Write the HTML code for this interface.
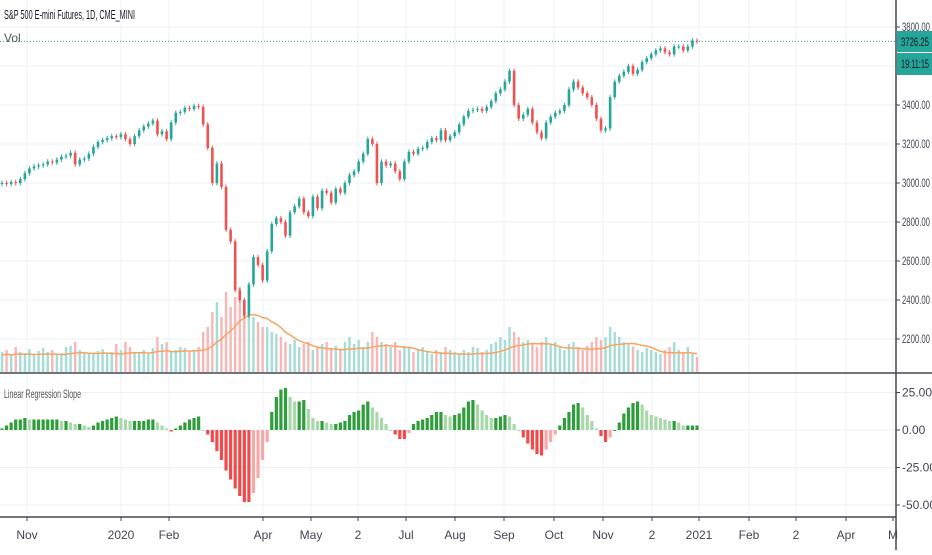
<!DOCTYPE html>
<html><head><meta charset="utf-8"><style>
body{margin:0;background:#fff;width:932px;height:550px;overflow:hidden;font-family:"Liberation Sans Narrow","Liberation Sans",sans-serif}
svg text{font-family:"Liberation Sans Narrow","Liberation Sans",sans-serif}
</style></head><body>
<svg id="c" width="932" height="550" xmlns="http://www.w3.org/2000/svg"></svg>
<script>
const closes=[3000,2995,3005,3000,3020,3050,3075,3085,3090,3095,3110,3105,3120,3135,3140,3155,3095,3120,3125,3150,3185,3210,3220,3230,3240,3235,3250,3225,3200,3240,3270,3290,3305,3320,3250,3265,3225,3310,3360,3365,3385,3380,3395,3390,3300,3180,3000,3100,2980,2760,2700,2450,2400,2320,2480,2620,2580,2500,2650,2790,2820,2800,2730,2850,2880,2920,2850,2830,2930,2870,2960,2950,2900,2970,2950,3000,3040,3060,3110,3150,3225,3200,3000,3110,3090,3100,3060,3020,3110,3160,3150,3175,3180,3210,3230,3220,3270,3220,3240,3260,3300,3340,3370,3375,3380,3370,3390,3420,3460,3480,3520,3575,3400,3330,3350,3380,3310,3260,3230,3310,3340,3360,3370,3400,3480,3520,3490,3460,3440,3400,3330,3270,3280,3440,3520,3550,3570,3600,3560,3580,3620,3640,3660,3680,3690,3670,3660,3700,3700,3680,3700,3730,3726.25];
const volumes=[20,22,18,25,20,19,23,18,21,24,20,22,18,19,25,26,30,22,20,18,19,21,23,18,20,28,22,30,25,20,19,22,18,24,35,28,30,20,22,25,24,20,22,25,40,45,60,70,55,80,65,75,85,60,70,55,50,45,45,40,38,35,30,28,32,25,28,30,22,25,28,30,24,26,22,30,35,28,32,25,30,40,35,30,28,25,30,22,26,24,20,22,25,20,18,22,20,25,22,20,18,22,20,25,24,20,22,28,30,35,32,45,40,35,30,32,28,25,30,35,28,30,25,22,28,30,25,22,26,30,35,32,35,45,40,35,30,28,25,22,20,24,22,20,18,22,25,30,22,20,25,18,15];
const slopes=[1,3,5,7,7,8,7,7,7,7,7,7,7,6,6,5,4,4,3,2,3,5,6,7,8,9,8,7,6,6,6,6,7,7,5,3,1,-1,1,3,5,7,8,9,0,-3,-8,-14,-20,-27,-33,-39,-44,-48,-48,-42,-32,-20,-8,12,22,27,28,22,19,19,20,14,8,6,6,5,4,4,5,6,10,12,13,17,19,15,12,8,4,0,-3,-6,-6,-2,4,6,7,8,10,12,12,10,9,10,11,15,19,20,17,13,10,8,8,9,10,9,4,0,-5,-9,-13,-16,-17,-13,-8,-3,3,8,12,17,18,15,10,6,1,-4,-8,-5,0,5,11,15,18,19,17,13,10,9,8,7,6,6,5,3,3,3,3];
const priceTicks=[3800,3400,3200,3000,2800,2600,2400,2200];
const slopeTicks=[25,0,-25,-50];
const timeLabels=["Nov","2020","Feb","Apr","May","2","Jul","Aug","Sep","Oct","Nov","2","2021","Feb","2","Apr","M"];
const timePos=[27,121,169,263,311,358,406,455,504,554,603,652,699,749,796,846,893];

const S=document.getElementById('c');const NS="http://www.w3.org/2000/svg";
function el(t,a,p){const e=document.createElementNS(NS,t);for(const k in a)e.setAttribute(k,a[k]);(p||S).appendChild(e);return e;}
const xOf=i=>2+i*(695/(closes.length-1));
const yP=v=>27+(3800-v)*0.195;
const yS=v=>430-v*1.5;
const yV=v=>372-v;
const grid=el('g',{});


priceTicks.concat([3600]).forEach(v=>el('line',{x1:0,x2:896,y1:yP(v),y2:yP(v),stroke:'#eef0f3'},grid));
slopeTicks.forEach(v=>el('line',{x1:0,x2:896,y1:yS(v),y2:yS(v),stroke:'#eef0f3'},grid));
timePos.forEach(x=>el('line',{x1:x,x2:x,y1:0,y2:517,stroke:'#eef0f3'},grid));
const vg=el('g',{});


volumes.forEach((v,i)=>{const up=i==0||closes[i]>=closes[i-1];
const r=el('rect',{x:xOf(i)-1.2,y:yV(v),width:2.4,height:v,fill:up?'#a6dcd6':'#f7b7b5'},vg);
});
let ma=[];volumes.forEach((v,i)=>{const s=volumes.slice(Math.max(0,i-9),i+1);ma.push(s.reduce((a,b)=>a+b,0)/s.length);});
const ml=el('polyline',{points:ma.map((m,i)=>xOf(i)+','+yV(m*0.85)).join(' '),fill:'none',stroke:'#f7a463','stroke-width':1.5});


const cg=el('g',{});


closes.forEach((c,i)=>{const o=i==0?c-5:closes[i-1];const up=c>=o;const col=up?'#26a69a':'#ef5350';
const hi=Math.max(o,c)+12,lo=Math.min(o,c)-12;const x=xOf(i);
const g=el('g',{},cg);
el('line',{x1:x,x2:x,y1:yP(hi),y2:yP(lo),stroke:col,'stroke-width':1},g);
const t=yP(Math.max(o,c)),b=yP(Math.min(o,c));
el('rect',{x:x-1.3,y:t,width:2.6,height:Math.max(1,b-t),fill:col},g);});
el('line',{x1:0,x2:896,y1:yP(3726.25),y2:yP(3726.25),stroke:'#26a69a','stroke-dasharray':'1 2','stroke-width':1});
const sg=el('g',{});


slopes.forEach((v,i)=>{const prev=i?slopes[i-1]:0;let col;
if(v>=0)col=v>=prev?'#2e9e3a':'#a8d8aa';else col=v<=prev?'#f24a4a':'#f7a8a8';
const y0=yS(0),y1=yS(v);
const r=el('rect',{x:xOf(i)-1.6,y:Math.min(y0,y1),width:3.2,height:Math.max(1,Math.abs(y1-y0)),fill:col},sg);
});
el('line',{x1:0,x2:932,y1:373,y2:373,stroke:'#434651','stroke-width':1.5});
el('line',{x1:0,x2:896,y1:517,y2:517,stroke:'#434651','stroke-width':1.5});
el('line',{x1:896,x2:896,y1:0,y2:550,stroke:'#434651','stroke-width':1.5});
const pa=el('g',{});


priceTicks.forEach(v=>{el('line',{x1:896,x2:900,y1:yP(v),y2:yP(v),stroke:'#434651'},pa);
el('text',{x:902,y:yP(v)+4,'font-size':12,fill:'#434651',textLength:28,lengthAdjust:'spacingAndGlyphs'},pa).textContent=v.toFixed(2);});
const sa=el('g',{});


slopeTicks.forEach(v=>{el('line',{x1:896,x2:900,y1:yS(v),y2:yS(v),stroke:'#434651'},sa);
el('text',{x:902,y:yS(v)+4,'font-size':12,fill:'#434651'},sa).textContent=v.toFixed(2);});
const ta=el('g',{});


timeLabels.forEach((l,i)=>{el('line',{x1:timePos[i],x2:timePos[i],y1:517,y2:521,stroke:'#434651'},ta);
el('text',{x:timePos[i],y:539,'font-size':12,fill:'#434651','text-anchor':'middle'},ta).textContent=l;});
const b1=el('g',{});
el('rect',{x:897,y:31,width:35,height:21,fill:'#26a69a'},b1);
el('text',{x:901,y:46,'font-size':12,fill:'#131722',textLength:28,lengthAdjust:'spacingAndGlyphs'},b1).textContent='3726.25';
const b2=el('g',{});
el('rect',{x:897,y:53,width:35,height:22,fill:'#26a69a'},b2);
el('text',{x:901,y:68,'font-size':12,fill:'#131722',textLength:28,lengthAdjust:'spacingAndGlyphs'},b2).textContent='19:11:15';
const t1=el('text',{x:4,y:19,'font-size':12.5,fill:'#131722',textLength:131,lengthAdjust:'spacingAndGlyphs'});t1.textContent='S&P 500 E-mini Futures, 1D, CME_MINI';

const t2=el('text',{x:4,y:42,'font-size':12,fill:'#555'});t2.textContent='Vol';

const t3=el('text',{x:4,y:398,'font-size':12,fill:'#555',textLength:77,lengthAdjust:'spacingAndGlyphs'});t3.textContent='Linear Regression Slope';

</script>
</body></html>
